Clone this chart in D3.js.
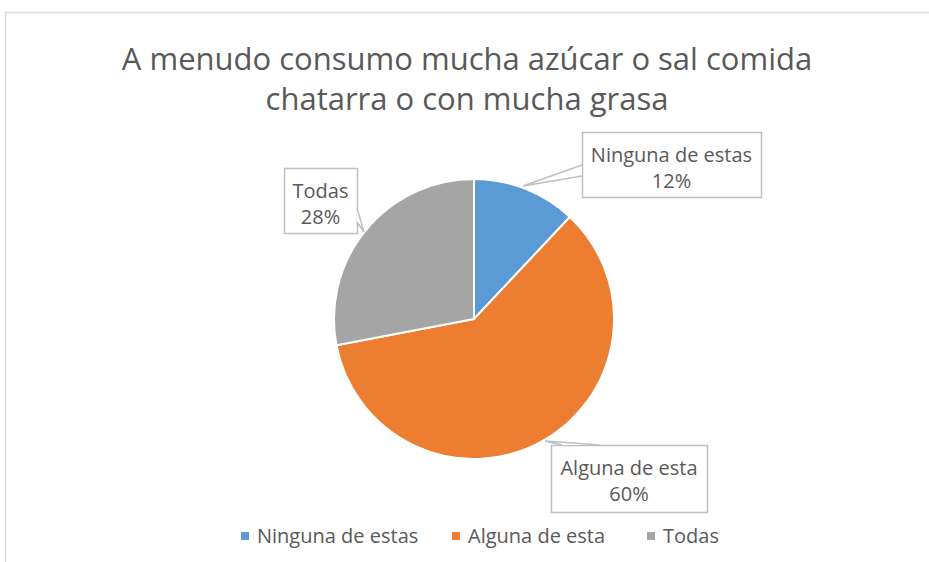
<!DOCTYPE html>
<html><head><meta charset="utf-8">
<script src="https://cdn.jsdelivr.net/npm/d3@7"></script>
<style>body{margin:0;background:#fff}svg{display:block}text{font-family:"Open Sans",sans-serif;fill:#595959}</style>
</head><body><svg id="c" width="929" height="562"></svg>
<script>
const titleLines = ["A menudo consumo mucha azúcar o sal comida", "chatarra o con mucha grasa"];
const categories = ["Ninguna de estas", "Alguna de esta", "Todas"];
const values = [12, 60, 28];
const colors = ["#5B9BD5", "#ED7D31", "#A5A5A5"];

const svg = d3.select("#c");
svg.append("rect").attr("x",5.5).attr("y",12.5).attr("width",940).attr("height",600)
  .attr("fill","#fff").attr("stroke","#d9d9d9").attr("stroke-width",1.5);

svg.selectAll("text.title").data(titleLines).join("text").attr("class","title")
  .attr("x",467).attr("y",(d,i)=>70+i*40).attr("text-anchor","middle")
  .style("font-size","31px").text(d=>d);

const cx=474, cy=319, r=140;
const pie = d3.pie().sort(null).value(d=>d)(values);
const arc = d3.arc().innerRadius(0).outerRadius(r);
const g = svg.append("g").attr("transform",`translate(${cx},${cy})`);
g.selectAll("path").data(pie).join("path").attr("d",arc)
  .attr("fill",(d,i)=>colors[i]).attr("stroke","#fff").attr("stroke-width",2);

// callouts
const callouts = [
  {box:[582,132,761,197], ptr:[[582,165],[523,186],[582,176]]},
  {box:[551,445,707,512], ptr:[[562,445],[545,441],[600,445]]},
  {box:[284,168,357,233], ptr:[[357,208],[364,232],[357,222]]}
];
callouts.forEach((c,i)=>{
  const [x0,y0,x1,y1]=c.box;
  svg.append("rect").attr("x",x0+.5).attr("y",y0+.5).attr("width",x1-x0).attr("height",y1-y0)
    .attr("fill","#fff").attr("stroke","#bfbfbf").attr("stroke-width",1.5);
  svg.append("path").attr("d",d3.line()(c.ptr)).attr("fill","#fff").attr("stroke","#bfbfbf").attr("stroke-width",1.5);
  const mx=(x0+x1)/2;
  svg.append("text").attr("x",mx).attr("y",y0+30).attr("text-anchor","middle").style("font-size","20px").text(categories[i]);
  svg.append("text").attr("x",mx).attr("y",y0+56).attr("text-anchor","middle").style("font-size","20px").text(Math.round(pie[i].data/d3.sum(values)*100)+"%");
});

// legend
const legX=[241,452,647];
const lg = svg.append("g");
categories.forEach((c,i)=>{
  lg.append("rect").attr("x",legX[i]).attr("y",532).attr("width",8).attr("height",8).attr("fill",colors[i]);
  lg.append("text").attr("x",legX[i]+16).attr("y",543).style("font-size","20px").text(c);
});
</script></body></html>
